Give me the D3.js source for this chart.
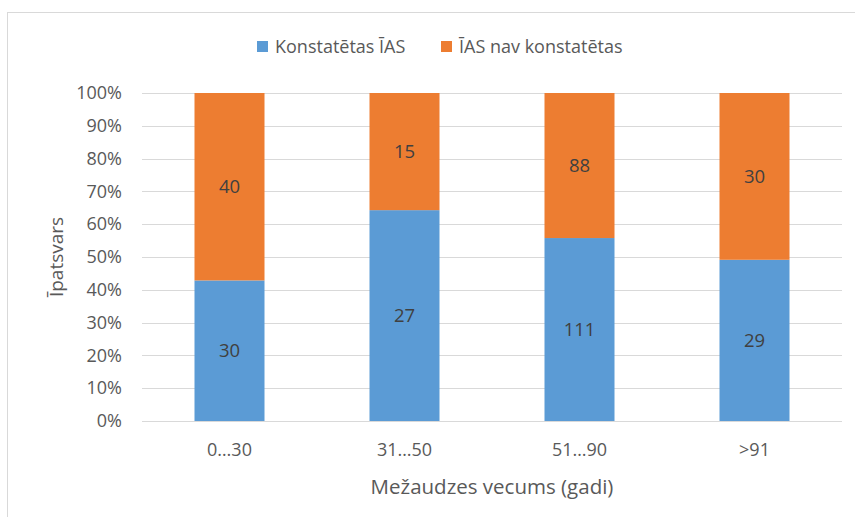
<!DOCTYPE html>
<html>
<head>
<meta charset="utf-8">
<script src="https://cdn.jsdelivr.net/npm/d3@7"></script>
<style>
  body { margin: 0; background: #fff; }
  text { font-family: "Open Sans", "Liberation Sans", sans-serif; fill: #595959; }
</style>
</head>
<body>
<div id="chart"></div>
<script>
// data
const categories = ["0…30", "31…50", "51…90", ">91"];
const seriesNames = ["Konstatētas ĪAS", "ĪAS nav konstatētas"];
const found = [30, 27, 111, 29];
const notFound = [40, 15, 88, 30];
const yTicks = [0, 0.1, 0.2, 0.3, 0.4, 0.5, 0.6, 0.7, 0.8, 0.9, 1];
const colors = ["#5B9BD5", "#ED7D31"];

const width = 855, height = 517;
const margin = {top: 93, right: 13, bottom: 96, left: 142};

const svg = d3.select("#chart").append("svg")
    .attr("width", width)
    .attr("height", height);

// chart frame (clipped at right/bottom like the source)
svg.append("rect")
    .attr("x", 7.5).attr("y", 12.5)
    .attr("width", 900).attr("height", 600)
    .attr("fill", "none")
    .attr("stroke", "#d9d9d9");

const x = d3.scaleBand()
    .domain(categories)
    .range([margin.left, width - margin.right])
    .paddingInner(0.6)
    .paddingOuter(0.3);

const y = d3.scaleLinear()
    .domain([0, 1])
    .range([height - margin.bottom, margin.top]);

// gridlines
svg.append("g")
    .selectAll("line")
    .data(yTicks)
    .join("line")
    .attr("x1", margin.left).attr("x2", width - margin.right)
    .attr("y1", d => Math.round(y(d)) + 0.5)
    .attr("y2", d => Math.round(y(d)) + 0.5)
    .attr("stroke", "#d9d9d9")
    .attr("stroke-width", 1);

// y axis labels
const yAxis = d3.axisLeft(y).tickValues(yTicks).tickFormat(d3.format(".0%")).tickSize(0).tickPadding(20);
const yG = svg.append("g").attr("transform", `translate(${margin.left},0)`).call(yAxis);
yG.select(".domain").remove();
yG.selectAll("text").style("font-size", "18px").attr("fill", "#595959")
    .style("font-family", "\"Open Sans\", sans-serif");

// x axis labels
const xAxis = d3.axisBottom(x).tickSize(0).tickPadding(22);
const xG = svg.append("g").attr("transform", `translate(0,${height - margin.bottom})`).call(xAxis);
xG.select(".domain").remove();
xG.selectAll("text").style("font-size", "18px").attr("fill", "#595959")
    .style("font-family", "\"Open Sans\", sans-serif");

// stacked (100%) data
const rows = categories.map((c, i) => ({cat: c, a: found[i], b: notFound[i]}));
const stack = d3.stack().keys(["a", "b"]).offset(d3.stackOffsetExpand);
const series = stack(rows);

const layers = svg.append("g")
    .selectAll("g")
    .data(series)
    .join("g")
    .attr("fill", (d, i) => colors[i]);

layers.selectAll("rect")
    .data(d => d)
    .join("rect")
    .attr("x", d => x(d.data.cat))
    .attr("width", x.bandwidth())
    .attr("y", d => y(d[1]))
    .attr("height", d => y(d[0]) - y(d[1]));

// value labels
layers.selectAll("text")
    .data((d, i) => d.map(p => ({p, key: d.key})))
    .join("text")
    .attr("x", d => x(d.p.data.cat) + x.bandwidth() / 2)
    .attr("y", d => (y(d.p[0]) + y(d.p[1])) / 2)
    .attr("dy", "0.35em")
    .attr("text-anchor", "middle")
    .style("font-size", "18.5px")
    .style("fill", "#404040")
    .text(d => d.p.data[d.key]);

// axis titles
svg.append("text")
    .attr("x", x.range()[0] + (x.range()[1] - x.range()[0]) / 2)
    .attr("y", 494)
    .attr("text-anchor", "middle")
    .style("font-size", "20.5px")
    .text("Mežaudzes vecums (gadi)");

svg.append("text")
    .attr("transform", `translate(63,${(y(0) + y(1)) / 2}) rotate(-90)`)
    .attr("text-anchor", "middle")
    .style("font-size", "19px")
    .text("Īpatsvars");

// legend
const legendX = [257, 441];
const legend = svg.append("g")
    .selectAll("g")
    .data(seriesNames)
    .join("g")
    .attr("transform", (d, i) => `translate(${legendX[i]},41)`);

legend.append("rect")
    .attr("width", 11).attr("height", 11)
    .attr("fill", (d, i) => colors[i]);

legend.append("text")
    .attr("x", 18).attr("y", 5.5)
    .attr("dy", "0.35em")
    .style("font-size", "18px")
    .text(d => d);
</script>
</body>
</html>
